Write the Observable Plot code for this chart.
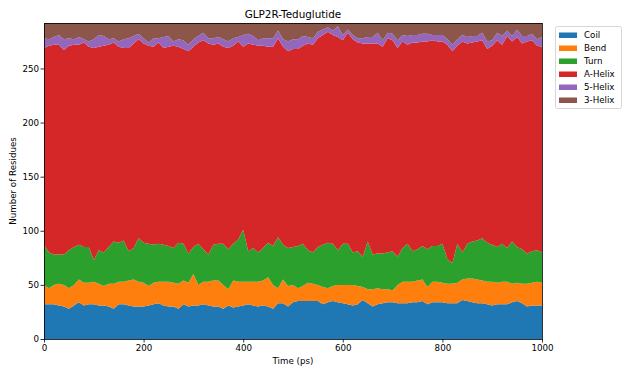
<!DOCTYPE html>
<html>
<head>
<meta charset="utf-8">
<script src="https://cdn.jsdelivr.net/npm/d3@7"></script>
<script src="https://cdn.jsdelivr.net/npm/@observablehq/plot@0.6"></script>
<style>
  html, body { margin: 0; padding: 0; background: white; }
  #chart { width: 627px; height: 376px; }
</style>
</head>
<body>
<div id="chart"></div>
<script>
const title = "GLP2R-Teduglutide";
const xLabel = "Time (ps)";
const yLabel = "Number of Residues";
const seriesNames = ["Coil", "Bend", "Turn", "A-Helix", "5-Helix", "3-Helix"];
const seriesColors = ["#1f77b4", "#ff7f0e", "#2ca02c", "#d62728", "#9467bd", "#8c564b"];
const xTicks = [0, 200, 400, 600, 800, 1000];
const yTicks = [0, 50, 100, 150, 200, 250];

const times = [0,10,20,30,40,50,60,70,80,90,100,110,120,130,140,150,160,170,180,190,200,
  210,220,230,240,250,260,270,280,290,300,310,320,330,340,350,360,370,380,390,400,
  410,420,430,440,450,460,470,480,490,500,510,520,530,540,550,560,570,580,590,600,
  610,620,630,640,650,660,670,680,690,700,710,720,730,740,750,760,770,780,790,800,
  810,820,830,840,850,860,870,880,890,900,910,920,930,940,950,960,970,980,990,1000];

const coil = [32,32,32,31,30,28,31,34,31,32,32,31,31,30,28,32,32,31,30,30,30,
  31,32,33,31,30,30,28,32,30,31,31,32,31,30,30,28,31,29,30,31,
  32,31,30,31,30,28,33,33,30,34,35,35,35,35,35,32,34,35,34,33,
  32,31,32,36,33,30,32,33,34,34,33,33,33,34,34,35,32,34,34,34,
  33,33,33,36,35,34,33,33,32,31,32,32,32,34,35,33,30,31,31,31];

const bend = [18,15,18,20,20,19,19,21,21,20,21,20,18,21,23,21,21,23,25,23,22,
  18,20,20,22,23,22,23,22,22,29,19,21,22,24,24,22,15,25,23,22,
  21,22,23,23,27,22,14,22,19,16,12,14,17,16,15,16,13,14,16,17,
  18,19,17,12,13,16,15,13,12,11,17,20,20,19,20,20,16,19,19,18,
  18,18,19,19,21,22,22,21,21,22,20,21,21,17,17,18,21,21,22,21];

const turn = [37,33,28,27,28,35,35,32,33,33,20,31,31,34,39,36,38,27,29,40,37,
  39,35,35,34,33,32,38,34,27,25,38,30,25,33,34,38,37,34,39,48,
  28,31,27,30,32,36,47,32,35,35,39,39,30,29,35,39,42,39,32,38,
  38,30,32,28,44,32,32,33,34,36,26,31,35,28,29,31,35,33,33,36,
  23,19,36,25,32,34,36,39,36,34,33,35,31,39,33,32,28,29,29,28];

const aHelix = [182,191,194,194,189,189,187,185,189,185,196,188,191,187,184,181,178,188,189,184,184,
  183,183,186,182,184,187,181,180,187,185,186,193,195,185,185,182,186,183,183,169,
  192,188,191,187,181,184,184,183,182,183,182,183,191,192,193,194,195,193,197,188,
  195,197,193,197,183,195,194,191,198,195,193,191,184,193,191,189,192,190,189,187,
  198,196,183,195,185,184,184,183,179,184,191,184,196,185,194,190,196,195,189,190];

const fiveHelix = [9,6,7,9,10,7,5,7,3,5,8,11,9,5,4,5,8,9,7,5,5,
  3,8,4,10,10,4,7,8,6,7,6,7,5,6,6,7,6,7,4,11,
  9,8,5,7,8,8,7,7,9,9,9,9,6,6,6,5,4,4,10,5,
  3,4,4,5,6,6,10,6,5,6,7,6,8,7,7,7,7,5,6,6,
  5,6,6,6,6,6,5,7,7,5,7,8,5,5,7,7,5,6,6,9];

const threeHelix = [14,15,13,11,15,14,15,13,15,17,15,11,12,15,14,17,15,14,12,10,14,
  18,14,14,13,12,17,15,16,20,15,12,9,14,14,13,15,17,14,13,11,
  10,12,16,14,14,14,7,15,17,15,15,12,13,14,8,6,4,7,3,11,
  6,11,14,14,13,13,9,16,9,10,16,11,12,11,11,10,10,11,11,11,
  15,20,15,11,13,12,12,9,17,16,9,12,7,12,6,12,12,10,15,13];

const seriesValues = [coil, bend, turn, aHelix, fiveHelix, threeHelix];
const data = [];
seriesNames.forEach((name, i) => {
  times.forEach((t, j) => data.push({t, v: seriesValues[i][j], s: name}));
});

const font = "'DejaVu Sans', 'Liberation Sans', sans-serif";

const plot = Plot.plot({
  width: 627,
  height: 376,
  marginLeft: 44,
  marginRight: 85,
  marginTop: 23,
  marginBottom: 37,
  style: {fontFamily: font, fontSize: "8.7px", background: "white", color: "black", overflow: "visible"},
  x: {domain: [0, 1000]},
  y: {domain: [0, 292]},
  color: {domain: seriesNames, range: seriesColors},
  marks: [
    Plot.areaY(data, {x: "t", y: "v", fill: "s", order: seriesNames, curve: "linear"}),
    Plot.frame({stroke: "black", strokeWidth: 0.8}),
    Plot.axisX({ticks: xTicks, tickFormat: d => String(d), tickSize: 3.5, tickPadding: 2, label: null, strokeWidth: 0.8}),
    Plot.axisY({ticks: yTicks, tickFormat: d => String(d), tickSize: 3.5, tickPadding: 2, label: null, strokeWidth: 0.8})
  ]
});

document.getElementById("chart").appendChild(plot);

const svg = d3.select(plot);
svg.append("text")
  .attr("x", 293).attr("y", 18)
  .attr("text-anchor", "middle")
  .attr("font-family", font).attr("font-size", "10.4px").attr("fill", "black")
  .text(title);
svg.append("text")
  .attr("x", 293).attr("y", 364)
  .attr("text-anchor", "middle")
  .attr("font-family", font).attr("font-size", "8.7px").attr("fill", "black")
  .text(xLabel);
svg.append("text")
  .attr("transform", "translate(16,181) rotate(-90)")
  .attr("text-anchor", "middle")
  .attr("font-family", font).attr("font-size", "8.7px").attr("fill", "black")
  .text(yLabel);

const lg = svg.append("g");
lg.append("rect")
  .attr("x", 555.5).attr("y", 26.5).attr("width", 66).attr("height", 82).attr("rx", 2)
  .attr("fill", "white").attr("fill-opacity", 0.8).attr("stroke", "#cccccc").attr("stroke-width", 0.8);
seriesNames.forEach((name, i) => {
  const cy = 35 + i * 13;
  lg.append("rect")
    .attr("x", 559).attr("y", cy - 2.5).attr("width", 18).attr("height", 5.5)
    .attr("fill", seriesColors[i]);
  lg.append("text")
    .attr("x", 584).attr("y", cy).attr("dy", "0.35em")
    .attr("text-anchor", "start")
    .attr("font-family", font).attr("font-size", "8.7px").attr("fill", "black")
    .text(name);
});
</script>
</body>
</html>
